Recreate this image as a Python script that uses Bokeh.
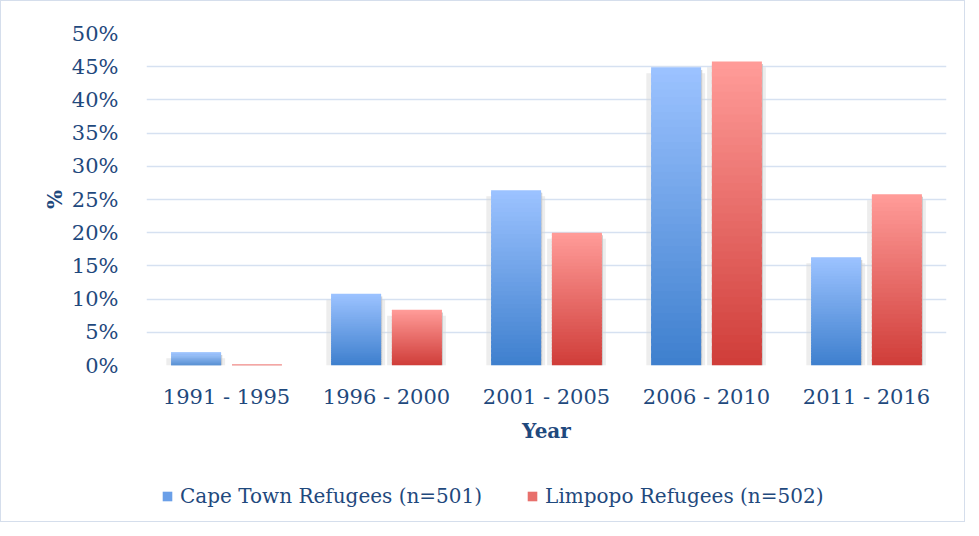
import numpy as np
from bokeh.plotting import figure
from bokeh.layouts import column
from bokeh.models import Range1d, FixedTicker, NumeralTickFormatter, Legend, LegendItem
from bokeh.embed import file_html
from bokeh.resources import INLINE

# ---- data ----
categories = ["1991 - 1995", "1996 - 2000", "2001 - 2005", "2006 - 2010", "2011 - 2016"]
cape_town = [0.020, 0.108, 0.264, 0.449, 0.163]
limpopo = [0.002, 0.084, 0.200, 0.458, 0.258]
series_names = ["Cape Town Refugees (n=501)", "Limpopo Refugees (n=502)"]
y_ticks = [0.0, 0.05, 0.10, 0.15, 0.20, 0.25, 0.30, 0.35, 0.40, 0.45, 0.50]

TEXT = "#1F497D"
FONT = "DejaVu Serif"

blue_top, blue_bot = (155, 194, 255), (63, 128, 206)
red_top, red_bot = (255, 155, 152), (208, 62, 58)

p = figure(width=963, height=468, output_backend="svg", toolbar_location=None,
           x_range=Range1d(0, len(categories)), y_range=Range1d(0, 0.5),
           min_border_left=145, min_border_right=18, min_border_top=32, min_border_bottom=104)
p.outline_line_color = None
p.xgrid.grid_line_color = None
p.ygrid.grid_line_color = "#D6E1F1"
p.ygrid.grid_line_width = 1.6
p.ygrid.ticker = FixedTicker(ticks=y_ticks)

def hexc(c):
    return "#%02x%02x%02x" % tuple(int(round(v)) for v in c)

def gradient_bars(xs, vals, width, top_c, bot_c, n=40):
    L, R, B, T, C = [], [], [], [], []
    for x, v in zip(xs, vals):
        for k in range(n):
            t = k / (n - 1)
            col = tuple(bot_c[i] + (top_c[i] - bot_c[i]) * t for i in range(3))
            L.append(x - width / 2); R.append(x + width / 2)
            B.append(v * k / n); T.append(min(v, v * (k + 1.6) / n))
            C.append(hexc(col))
    p.quad(left=L, right=R, bottom=B, top=T, fill_color=C, line_color=None)

centers = np.arange(len(categories)) + 0.5
off = 0.19
bw = 0.3125
xs_blue = centers - off
xs_red = centers + off

# soft shadows
for xs, vals in ((xs_blue, cape_town), (xs_red, limpopo)):
    p.quad(left=[x - bw / 2 - 0.03 for x in xs], right=[x + bw / 2 + 0.025 for x in xs],
           bottom=[0] * len(xs), top=[max(v - 0.009, 0) for v in vals],
           fill_color="#D8D8D8", fill_alpha=0.45, line_color=None)
    p.quad(left=[x + bw / 2 for x in xs], right=[x + bw / 2 + 0.007 for x in xs],
           bottom=[0] * len(xs), top=[max(v - 0.004, 0) for v in vals],
           fill_color="#C4C4C4", fill_alpha=0.8, line_color=None)

gradient_bars(xs_blue, cape_town, bw, blue_top, blue_bot)
gradient_bars(xs_red, limpopo, bw, red_top, red_bot)

# axes
p.xaxis.ticker = FixedTicker(ticks=list(centers))
p.xaxis.major_label_overrides = {float(c): lab for c, lab in zip(centers, categories)}
p.yaxis.ticker = FixedTicker(ticks=y_ticks)
p.yaxis.formatter = NumeralTickFormatter(format="0%")
for ax in (p.xaxis[0], p.yaxis[0]):
    ax.axis_line_color = None
    ax.major_tick_line_color = None
    ax.minor_tick_line_color = None
    ax.major_label_text_font = FONT
    ax.major_label_text_font_size = "21px"
    ax.major_label_text_color = TEXT
    ax.axis_label_text_font = FONT
    ax.axis_label_text_font_style = "bold"
    ax.axis_label_text_font_size = "20px"
    ax.axis_label_text_color = TEXT
p.xaxis.axis_label = "Year"
p.yaxis.axis_label = "%"
p.xaxis.major_label_standoff = 13
p.xaxis.axis_label_standoff = 7
p.yaxis.major_label_standoff = 22
p.yaxis.axis_label_standoff = 2

# legend strip below the chart
lg = figure(width=963, height=52, output_backend="svg", toolbar_location=None,
            x_range=Range1d(0, 1), y_range=Range1d(0, 1),
            x_axis_location=None, y_axis_location=None,
            min_border_left=0, min_border_right=0, min_border_top=0, min_border_bottom=0)
lg.outline_line_color = None
lg.xgrid.visible = False
lg.ygrid.visible = False
# legend proxy glyphs, kept outside the visible range
rb = lg.quad(left=[5], right=[6], bottom=[5], top=[6], fill_color="#6A9FE8", line_color=None)
rr = lg.quad(left=[5], right=[6], bottom=[5], top=[6], fill_color="#E8706C", line_color=None)
legend = Legend(items=[LegendItem(label=series_names[0], renderers=[rb]),
                       LegendItem(label=series_names[1], renderers=[rr])],
                orientation="horizontal", location=(15, 13),
                glyph_width=12, glyph_height=12, label_standoff=7, spacing=44,
                padding=0, margin=0, border_line_color=None, background_fill_alpha=0,
                label_text_font=FONT, label_text_font_size="20px", label_text_color=TEXT,
                label_height=20)
lg.add_layout(legend, "center")

layout = column(p, lg, spacing=0)
layout.styles = {"border": "1px solid #D5DEEC"}

open("out.html", "w").write(file_html(layout, INLINE))
